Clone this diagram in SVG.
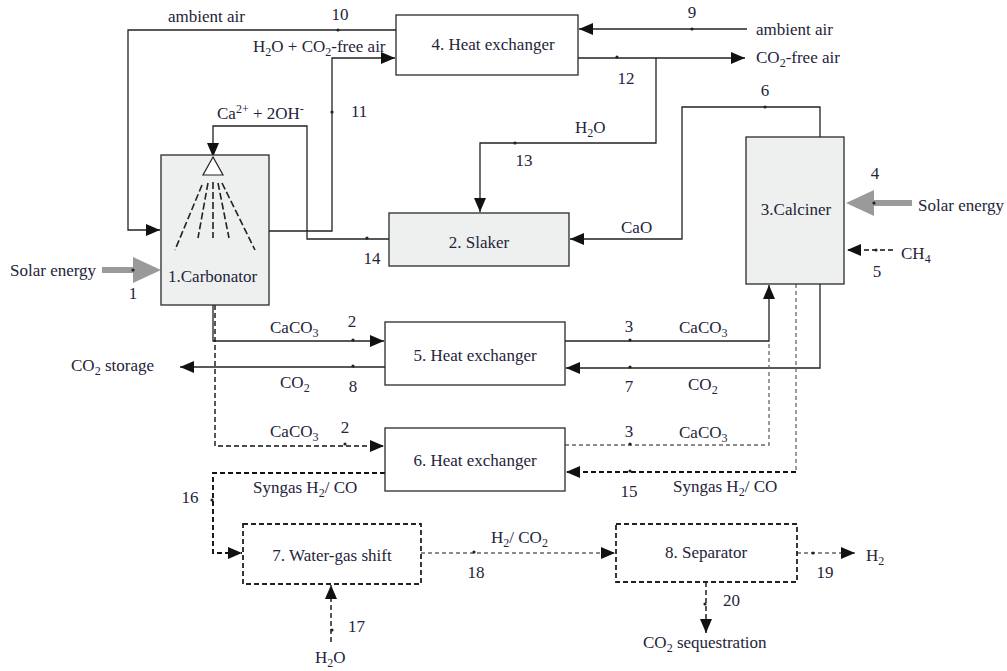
<svg xmlns="http://www.w3.org/2000/svg" width="1007" height="671" viewBox="0 0 1007 671" font-family="'Liberation Serif','Times New Roman',serif">
<defs>
<style>
text{font-family:"Liberation Serif","Times New Roman",serif;font-size:17px;fill:#24243a}
.sub{font-size:12px}
.c{text-anchor:middle}
.box{fill:#fff;stroke:#2a2a2a;stroke-width:1.3}
.gbox{fill:#eef0f0;stroke:#2a2a2a;stroke-width:1.3}
.dbox{fill:#fff;stroke:#222;stroke-width:1.8;stroke-dasharray:5 3}
.ln{fill:none;stroke:#222;stroke-width:1.3}
.dl{fill:none;stroke:#111;stroke-width:1.4;stroke-dasharray:5 3}
.tl{fill:none;stroke:#111;stroke-width:1.9;stroke-dasharray:5 3}
.gl{fill:none;stroke:#666;stroke-width:1.3;stroke-dasharray:4 3}
.spray{fill:none;stroke:#222;stroke-width:1.6;stroke-dasharray:7 3}
.dot{fill:#222}
.solar{fill:#9a9a9a}
</style>
<marker id="ah" markerUnits="userSpaceOnUse" markerWidth="15" markerHeight="13" refX="14" refY="6" orient="auto">
<path d="M0,0 L14,6 L0,12 z" fill="#111"/>
</marker>
</defs>

<g id="connectors">
<path class="ln" d="M396,30 H128 V230 H160" marker-end="url(#ah)"/>
<path class="ln" d="M269,231 H332 V58 H395" marker-end="url(#ah)"/>
<path class="ln" d="M389,239 H307 V126 H213 V157" marker-end="url(#ah)"/>
<path class="ln" d="M747,29 H579" marker-end="url(#ah)"/>
<path class="ln" d="M574,58 H745" marker-end="url(#ah)"/>
<path class="ln" d="M656,58 V143 H480 V212" marker-end="url(#ah)"/>
<path class="ln" d="M820,137 V107 H682 V239 H570" marker-end="url(#ah)"/>
<path class="dl" d="M893,250 H847" marker-end="url(#ah)"/>
<path class="ln" d="M213,305 V341 H384" marker-end="url(#ah)"/>
<path class="ln" d="M385,367 H180" marker-end="url(#ah)"/>
<path class="ln" d="M565,341 H769 V285" marker-end="url(#ah)"/>
<path class="ln" d="M820,284 V368 H566" marker-end="url(#ah)"/>
<path class="dl" d="M215,305 V446 H384" marker-end="url(#ah)"/>
<path class="gl" d="M565,445 H769 V341"/>
<path class="gl" d="M796,284 V472"/>
<path class="tl" d="M796,472 H566" marker-end="url(#ah)"/>
<path class="tl" d="M385,473 H213 V553 H242" marker-end="url(#ah)"/>
<path class="dl" d="M331,642 V585" marker-end="url(#ah)"/>
<path class="gl" d="M421,553 H615" marker-end="url(#ah)"/>
<path class="gl" d="M797,553 H855" marker-end="url(#ah)"/>
<path class="dl" d="M706,582 V633" marker-end="url(#ah)"/>
</g>

<g id="solar1">
<rect class="solar" x="102" y="267" width="32" height="6"/>
<polygon class="solar" points="133,257 161,270 133,283"/>
<text x="10" y="276">Solar energy</text>
<text class="c" x="133" y="299">1</text>
</g>
<g id="solar4">
<rect class="solar" x="872" y="200" width="40" height="6"/>
<polygon class="solar" points="874,190 846,203 874,216"/>
<text x="918" y="211">Solar energy</text>
<text class="c" x="875" y="179">4</text>
</g>

<g id="carbonator">
<rect class="gbox" x="161" y="155" width="108" height="150"/>
<polygon points="213,157 203,175 223,175" fill="#fff" stroke="#222" stroke-width="1.2"/>
<path class="spray" d="M202,185 L175,250 M208,183 L198,238 M213,182 L213,238 M218,183 L229,238 M222,183 L255,250"/>
<text x="168" y="282">1.Carbonator</text>
</g>
<g id="slaker">
<rect class="gbox" x="389" y="213" width="180" height="53"/>
<text class="c" x="479" y="248">2. Slaker</text>
</g>
<g id="calciner">
<rect class="gbox" x="746" y="137" width="98" height="147"/>
<text class="c" x="796" y="215">3.Calciner</text>
</g>
<g id="hx4">
<rect class="box" x="396" y="15" width="182" height="60"/>
<text class="c" x="493" y="50">4. Heat exchanger</text>
</g>
<g id="hx5">
<rect class="box" x="385" y="322" width="180" height="63"/>
<text class="c" x="475" y="361">5. Heat exchanger</text>
</g>
<g id="hx6">
<rect class="box" x="385" y="428" width="180" height="63"/>
<text class="c" x="475" y="466">6. Heat exchanger</text>
</g>
<g id="wgs">
<rect class="dbox" x="243" y="524" width="178" height="60"/>
<text class="c" x="332" y="561">7. Water-gas shift</text>
</g>
<g id="separator">
<rect class="dbox" x="616" y="524" width="181" height="58"/>
<text class="c" x="706" y="558">8. Separator</text>
</g>

<g id="dots">
<circle class="dot" cx="338" cy="30" r="1.6"/>
<circle class="dot" cx="692" cy="29" r="1.6"/>
<circle class="dot" cx="617" cy="57" r="1.6"/>
<circle class="dot" cx="332" cy="112" r="1.6"/>
<circle class="dot" cx="765" cy="107" r="1.6"/>
<circle class="dot" cx="515" cy="143" r="1.6"/>
<circle class="dot" cx="367" cy="238" r="1.6"/>
<circle class="dot" cx="133" cy="270" r="1.6"/>
<circle class="dot" cx="874" cy="203" r="1.6"/>
<circle class="dot" cx="876" cy="250" r="1.6"/>
<circle class="dot" cx="353" cy="340" r="1.6"/>
<circle class="dot" cx="353" cy="366" r="1.6"/>
<circle class="dot" cx="345" cy="444" r="1.6"/>
<circle class="dot" cx="630" cy="340" r="1.6"/>
<circle class="dot" cx="630" cy="367" r="1.6"/>
<circle class="dot" cx="630" cy="444" r="1.6"/>
<circle class="dot" cx="630" cy="471" r="1.6"/>
<circle class="dot" cx="212" cy="500" r="1.6"/>
<circle class="dot" cx="474" cy="552" r="1.6"/>
<circle class="dot" cx="332" cy="630" r="1.6"/>
<circle class="dot" cx="705" cy="604" r="1.6"/>
<circle class="dot" cx="813" cy="553" r="1.6"/>
</g>

<g id="labels">
<text x="168" y="22">ambient air</text>
<text class="c" x="340" y="20">10</text>
<text x="253" y="52">H<tspan class="sub" dy="4">2</tspan><tspan dy="-4">O + CO</tspan><tspan class="sub" dy="4">2</tspan><tspan dy="-4">-free air</tspan></text>
<text x="217" y="119">Ca<tspan class="sub" dy="-6">2+</tspan><tspan dy="6"> + 2OH</tspan><tspan class="sub" dy="-6">-</tspan></text>
<text x="351" y="117">11</text>
<text class="c" x="692" y="18">9</text>
<text x="756" y="35">ambient air</text>
<text x="756" y="63">CO<tspan class="sub" dy="4">2</tspan><tspan dy="-4">-free air</tspan></text>
<text class="c" x="626" y="84">12</text>
<text class="c" x="765" y="96">6</text>
<text x="575" y="133">H<tspan class="sub" dy="4">2</tspan><tspan dy="-4">O</tspan></text>
<text class="c" x="524" y="166">13</text>
<text x="621" y="233">CaO</text>
<text class="c" x="372" y="264">14</text>
<text x="901" y="259">CH<tspan class="sub" dy="4">4</tspan></text>
<text class="c" x="877" y="277">5</text>
<text x="270" y="333">CaCO<tspan class="sub" dy="4">3</tspan></text>
<text class="c" x="352" y="327">2</text>
<text x="71" y="371">CO<tspan class="sub" dy="4">2</tspan><tspan dy="-4"> storage</tspan></text>
<text x="280" y="388">CO<tspan class="sub" dy="4">2</tspan></text>
<text class="c" x="353" y="392">8</text>
<text x="270" y="437">CaCO<tspan class="sub" dy="4">3</tspan></text>
<text class="c" x="345" y="433">2</text>
<text class="c" x="629" y="332">3</text>
<text x="679" y="333">CaCO<tspan class="sub" dy="4">3</tspan></text>
<text class="c" x="629" y="392">7</text>
<text x="688" y="390">CO<tspan class="sub" dy="4">2</tspan></text>
<text class="c" x="629" y="437">3</text>
<text x="679" y="438">CaCO<tspan class="sub" dy="4">3</tspan></text>
<text class="c" x="629" y="497">15</text>
<text x="673" y="492">Syngas H<tspan class="sub" dy="4">2</tspan><tspan dy="-4">/ CO</tspan></text>
<text x="253" y="493">Syngas H<tspan class="sub" dy="4">2</tspan><tspan dy="-4">/ CO</tspan></text>
<text class="c" x="190" y="503">16</text>
<text x="491" y="543">H<tspan class="sub" dy="4">2</tspan><tspan dy="-4">/ CO</tspan><tspan class="sub" dy="4">2</tspan></text>
<text class="c" x="476" y="578">18</text>
<text x="348" y="632">17</text>
<text x="315" y="663">H<tspan class="sub" dy="4">2</tspan><tspan dy="-4">O</tspan></text>
<text class="c" x="825" y="578">19</text>
<text x="866" y="561">H<tspan class="sub" dy="4">2</tspan></text>
<text x="723" y="606">20</text>
<text x="643" y="648">CO<tspan class="sub" dy="4">2</tspan><tspan dy="-4"> sequestration</tspan></text>
</g>
</svg>
